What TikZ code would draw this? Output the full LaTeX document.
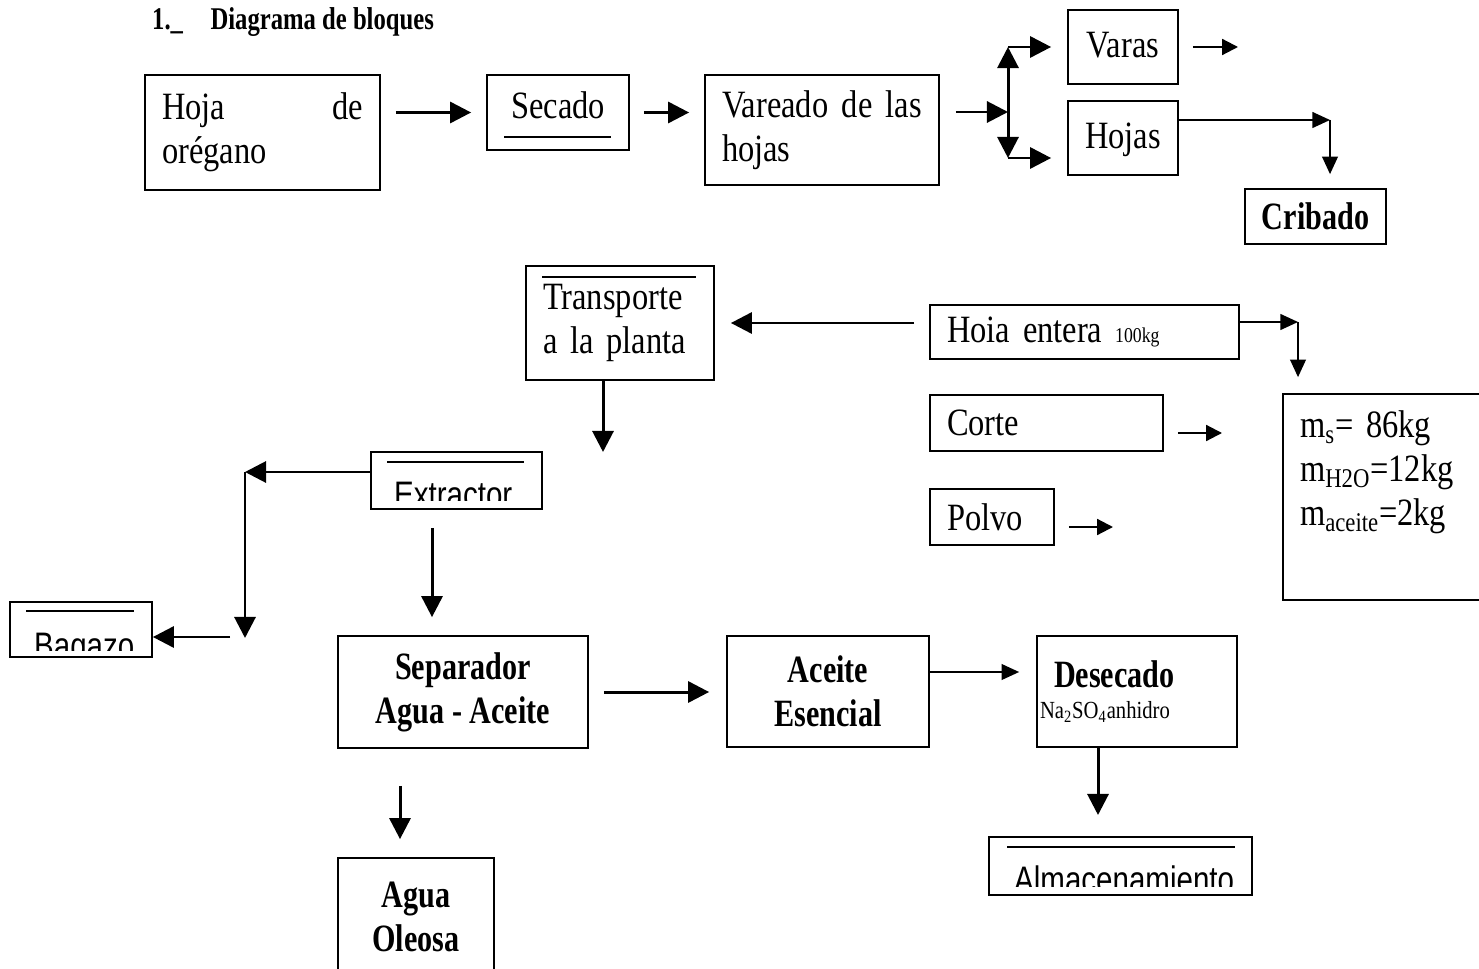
\documentclass[tikz,border=0pt]{standalone}
\usepackage{fontspec}
\setmainfont{Liberation Serif}[FakeStretch=0.84,BoldFeatures={FakeStretch=0.78}]
\newfontfamily\angosta{Liberation Sans}[FakeStretch=0.8]
\usetikzlibrary{arrows.meta}
\DeclareRobustCommand\letranormal{\fontsize{22}{25}\selectfont\spaceskip=0.22em plus 0.1em minus 0.05em\relax}

\begin{document}
\begin{tikzpicture}[x=0.02cm,y=-0.02cm,
    every node/.style={font=\letranormal},
    caja/.style 2 args={draw,line width=1pt,minimum width=#1*0.02cm,minimum height=#2*0.02cm,inner xsep=0.34cm,inner ysep=0pt},
    negrita/.style={font=\bfseries\fontsize{22}{25}\selectfont},
    recorte/.style={anchor=base west,font=\angosta\fontsize{21}{24}\selectfont},
    flecha/.style={line width=1.7pt,-{Triangle[length=12pt,width=12pt]}},
    fina/.style={line width=0.9pt,-{Triangle[length=10pt,width=9pt]}},
    corta/.style={line width=1.2pt,-{Triangle[length=9pt,width=9pt]}},
    raya/.style={line width=0.9pt}]
    \useasboundingbox (0,0) rectangle (1479,969);

    \node[anchor=base west,font=\bfseries\fontsize{18}{20}\selectfont] (titulo) at (146,30) {1.\_\hspace{0.55cm}Diagrama de bloques};

    \node[caja={235}{115},text width=4.02cm,align=left] (hoja) at (262.5,132.5) {Hoja \hfill de\\orégano};
    \node[caja={142}{75},text depth=0.28cm] (secado) at (558,112.5) {Secado};
    \draw[raya] (secado.south west) ++(18,-14) -- ++(107,0);
    \node[caja={234}{110},text width=4.0cm,align=left] (vareado) at (822,130) {Vareado \hfill de \hfill las\\hojas};
    \node[caja={110}{74},text depth=0.1cm] (varas) at (1123,47) {Varas};
    \node[caja={110}{74},text depth=0.1cm] (hojasb) at (1123,138) {Hojas};
    \node[caja={141}{55},negrita] (cribado) at (1315.5,216.5) {Cribado};

    \node[caja={188}{114},text width=3.08cm,align=left] (transporte) at (620,323) {Transporte\\a la planta};
    \draw[raya] (transporte.north west) ++(17,12) -- ++(154,0);
    \node[caja={309}{54},text width=5.5cm,align=left] (hojaent) at (1084.5,332) {Hoia entera {\fontsize{12}{14}\selectfont 100kg}};
    \node[caja={233}{56},text width=3.98cm,align=left] (corte) at (1046.5,423) {Corte};
    \node[caja={124}{56},text width=1.8cm,align=left] (polvo) at (992,517) {Polvo};
    \node[caja={207}{206},text width=3.46cm,align=left] (masas) at (1386.5,497) {m\textsubscript{s}= 86kg\\m\textsubscript{H2O}=12kg\\m\textsubscript{aceite}=2kg\\\strut};

    \node[caja={171}{57}] (extractor) at (456.5,480.5) {};
    \draw[raya] (extractor.north west) ++(17,11) -- ++(137,0);
    \begin{scope}
      \clip (extractor.north west) rectangle ([yshift=0.18cm]extractor.south east);
      \node[recorte] (extxt) at (388,507) {Extractor};
    \end{scope}
    \node[caja={142}{55}] (bagazo) at (81,629.5) {};
    \draw[raya] (bagazo.north west) ++(17,10) -- ++(108,0);
    \begin{scope}
      \clip (bagazo.north west) rectangle ([yshift=0.14cm]bagazo.south east);
      \node[recorte] (bagtxt) at (28,658) {Bagazo};
    \end{scope}
    \node[caja={263}{58}] (almacen) at (1120.5,866) {};
    \draw[raya] (almacen.north west) ++(19,11) -- ++(228,0);
    \begin{scope}
      \clip (almacen.north west) rectangle ([yshift=0.18cm]almacen.south east);
      \node[recorte] (almtxt) at (1008,892) {Almacenamiento};
    \end{scope}

    \node[caja={250}{112},negrita,align=center] (separador) at (463,692) {Separador\\Agua - Aceite};
    \node[caja={202}{111},negrita,align=center] (aceite) at (828,691.5) {Aceite\\Esencial};
    \node[caja={200}{111},text width=3.32cm,align=left] (desecado) at (1137,691.5) {\textbf{Desecado}\\[-7pt]\hspace*{-0.28cm}{\fontsize{14}{16}\selectfont Na\textsubscript{2}SO\textsubscript{4}anhidro}};
    \node[caja={156}{117},negrita,align=center] (agua) at (416,916.5) {Agua\\Oleosa};

    \coordinate (junc) at (1008,112);
    \coordinate (jbaja) at (1008,158);
    \coordinate (varasfin) at (1238,47);
    \coordinate (hcodo) at (1330,120);
    \coordinate (mcodo) at (1298,322);
    \coordinate (cortefin) at (1222,433);
    \coordinate (polvofin) at (1113,527);
    \coordinate (tbaja) at (603,452);
    \coordinate (ecodo) at (245,472);
    \coordinate (ebaja) at (245,638);
    \coordinate (bini) at (230,637);
    \coordinate (eabajo) at (432,570);
    \coordinate (ady) at (975,672);
    \coordinate (dbaja) at (1098,815);
    \coordinate (sbaja) at (400,800);

    \draw[flecha,shorten <=0.3cm,shorten >=0.3cm] (hoja.east |- secado.west) -- (secado.west);
    \draw[flecha,shorten <=0.28cm,shorten >=0.3cm] (secado.east) -- (vareado.west |- secado.east);
    \draw[flecha,shorten <=0.32cm] (vareado.east |- junc) -- (junc);
    \draw[flecha] (junc) -- (junc |- varas);
    \draw[flecha,shorten >=0.32cm] (junc |- varas) -- (varas.west);
    \draw[flecha] (junc) -- (jbaja);
    \draw[flecha,shorten >=0.32cm] (jbaja) -- (hojasb.west |- jbaja);
    \draw[corta,shorten <=0.28cm] (varas.east) -- (varasfin);
    \draw[fina] (hojasb.east |- hcodo) -- (hcodo);
    \draw[fina,shorten >=0.28cm] (hcodo) -- (hcodo |- cribado.north);

    \draw[fina] (hojaent.east |- mcodo) -- (mcodo);
    \draw[fina,shorten >=0.32cm] (mcodo) -- (mcodo |- masas.north);
    \draw[flecha,shorten <=0.3cm,shorten >=0.32cm] (hojaent.west |- transporte) -- (transporte.east);
    \draw[corta,shorten <=0.28cm] (corte.east |- cortefin) -- (cortefin);
    \draw[corta,shorten <=0.28cm] (polvo.east |- polvofin) -- (polvofin);
    \draw[flecha] (transporte.south -| tbaja) -- (tbaja);

    \draw[flecha] (extractor.west |- ecodo) -- (ecodo);
    \draw[flecha] (ecodo) -- (ebaja);
    \draw[flecha] (bini) -- (bagazo.east |- bini);
    \draw[flecha,shorten <=0.36cm,shorten >=0.36cm] (extractor.south -| eabajo) -- (separador.north -| eabajo);

    \draw[flecha,shorten <=0.3cm,shorten >=0.34cm] (separador.east) -- (aceite.west |- separador.east);
    \draw[fina,shorten >=0.34cm] (aceite.east |- ady) -- (desecado.west |- ady);
    \draw[flecha] (desecado.south -| dbaja) -- (dbaja);
    \draw[flecha,shorten <=0.74cm,shorten >=0.36cm] (separador.south -| sbaja) -- (agua.north -| sbaja);
\end{tikzpicture}
\end{document}
